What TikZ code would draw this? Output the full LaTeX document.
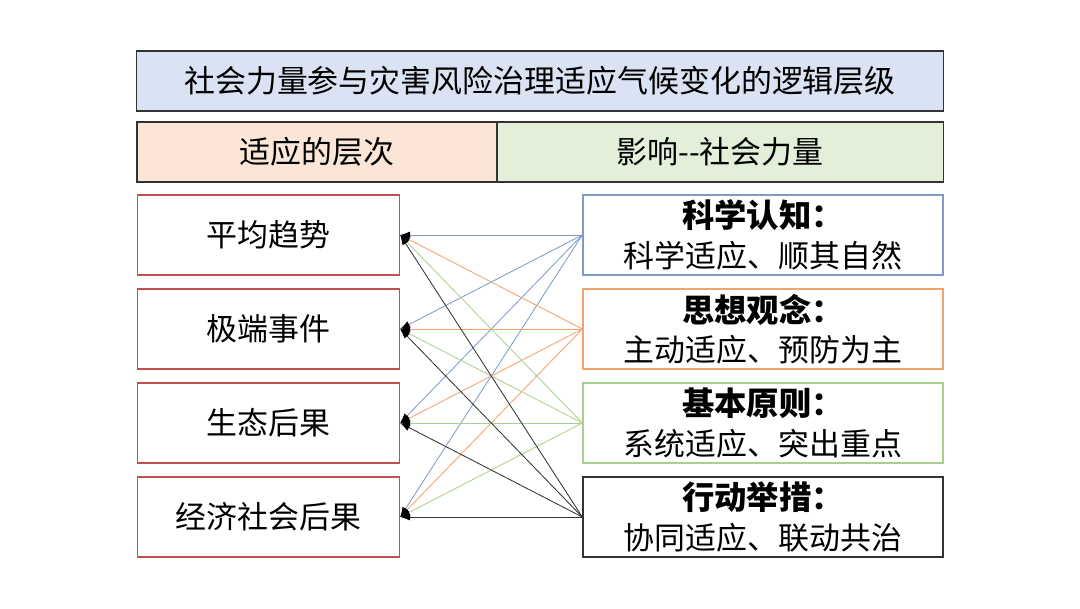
\documentclass[tikz,border=0pt]{standalone}
\usepackage{fontspec}
\setmainfont{Noto Sans CJK SC}
\usepackage{xcolor}
\usetikzlibrary{arrows.meta}

\definecolor{headblue}{HTML}{DAE3F3}
\definecolor{headpink}{HTML}{FBE5D6}
\definecolor{headgreen}{HTML}{E2F0D9}
\definecolor{levelred}{HTML}{C0504D}
\definecolor{linkblue}{HTML}{7F9BCB}
\definecolor{linkorange}{HTML}{F4A36C}
\definecolor{linkgreen}{HTML}{A9D18E}
\definecolor{linkblack}{HTML}{333333}

\tikzset{
  headbox/.style={draw=black!80,line width=0.8pt,minimum height=1.5cm,inner sep=0pt,font=\fontsize{22}{26}\selectfont},
  levelbox/.style={draw=levelred,line width=0.9pt,minimum width=6.55cm,minimum height=2cm,inner sep=0pt,font=\fontsize{22}{26}\selectfont},
  forcebox/.style={draw=#1,line width=0.9pt,minimum width=9cm,minimum height=2cm,inner sep=0pt,align=center,font=\fontsize{22}{28}\selectfont},
  link/.style={draw=#1,line width=0.6pt,-{Latex[color=black,length=7pt,width=5pt]}}
}

\begin{document}
\begin{tikzpicture}[x=0.025cm,y=-0.025cm]
  \useasboundingbox (0,0) rectangle (1080,608);
  % header rows
  \node[headbox,fill=headblue,minimum width=20.15cm] (title) at (540,81) {社会力量参与灾害风险治理适应气候变化的逻辑层级};
  \node[headbox,fill=headpink,minimum width=9cm] (levels) at (317,152) {适应的层次};
  \node[headbox,fill=headgreen,minimum width=11.15cm] (forces) at (720,152) {影响{-}{-}社会力量};
  % left column
  \node[levelbox] (lv1) at (268.5,235) {平均趋势};
  \node[levelbox] (lv2) at (268.5,329) {极端事件};
  \node[levelbox] (lv3) at (268.5,423) {生态后果};
  \node[levelbox] (lv4) at (268.5,517) {经济社会后果};
  % right column
  \node[forcebox=linkblue] (fc1) at (763,235) {{\fontsize{23}{28}\selectfont\textbf{科学认知：}}\\科学适应、顺其自然};
  \node[forcebox=linkorange] (fc2) at (763,329) {{\fontsize{23}{28}\selectfont\textbf{思想观念：}}\\主动适应、预防为主};
  \node[forcebox=linkgreen] (fc3) at (763,423) {{\fontsize{23}{28}\selectfont\textbf{基本原则：}}\\系统适应、突出重点};
  \node[forcebox=linkblack] (fc4) at (763,517) {{\fontsize{23}{28}\selectfont\textbf{行动举措：}}\\协同适应、联动共治};
  % links
  \foreach \f/\c in {1/linkblue,2/linkorange,3/linkgreen,4/linkblack}
    \foreach \l in {1,...,4}
      \draw[link=\c] (fc\f.west) -- (lv\l.east);
\end{tikzpicture}
\end{document}
